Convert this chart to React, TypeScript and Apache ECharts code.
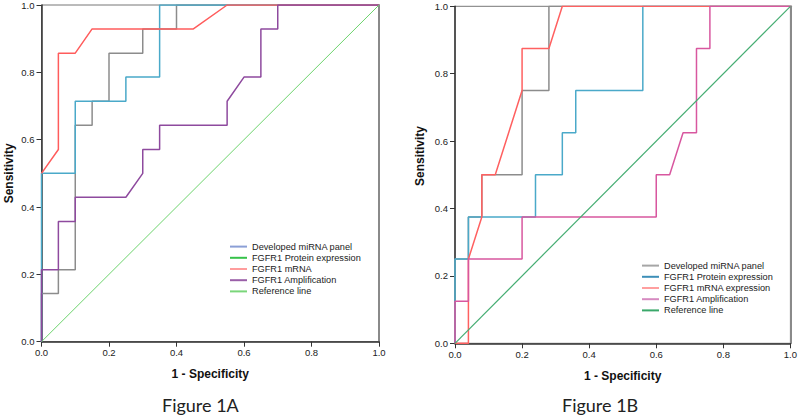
import React, { useEffect, useRef } from "react";
import * as echarts from "echarts";

// ---------- Data (Figure 1A) ----------
const leftDeveloped: number[][] = [
  [0, 0], [0, 0.143], [0.05, 0.143], [0.05, 0.214], [0.1, 0.214], [0.1, 0.643], [0.15, 0.643],
  [0.15, 0.714], [0.2, 0.714], [0.2, 0.857], [0.3, 0.857], [0.3, 0.929], [0.4, 0.929], [0.4, 1], [1, 1],
];
const leftProtein: number[][] = [
  [0, 0], [0, 0.5], [0.1, 0.5], [0.1, 0.714], [0.25, 0.714], [0.25, 0.786], [0.35, 0.786], [0.35, 1], [1, 1],
];
const leftMRNA: number[][] = [
  [0, 0.5], [0.05, 0.571], [0.05, 0.857], [0.1, 0.857], [0.15, 0.929], [0.45, 0.929], [0.55, 1], [1, 1],
];
const leftAmplification: number[][] = [
  [0, 0], [0, 0.214], [0.05, 0.214], [0.05, 0.357], [0.1, 0.357], [0.1, 0.429], [0.25, 0.429], [0.3, 0.5],
  [0.3, 0.571], [0.35, 0.571], [0.35, 0.643], [0.55, 0.643], [0.55, 0.714], [0.6, 0.786], [0.65, 0.786],
  [0.65, 0.929], [0.7, 0.929], [0.7, 1], [1, 1],
];
const referenceLine: number[][] = [[0, 0], [1, 1]];

// ---------- Data (Figure 1B) ----------
const rightDeveloped: number[][] = [
  [0, 0], [0, 0.25], [0.04, 0.25], [0.04, 0.375], [0.08, 0.375], [0.08, 0.5], [0.2, 0.5], [0.2, 0.75],
  [0.28, 0.75], [0.28, 1], [1, 1],
];
const rightProtein: number[][] = [
  [0, 0], [0, 0.25], [0.04, 0.25], [0.04, 0.375], [0.24, 0.375], [0.24, 0.5], [0.32, 0.5], [0.32, 0.625],
  [0.36, 0.625], [0.36, 0.75], [0.56, 0.75], [0.56, 1], [1, 1],
];
const rightMRNA: number[][] = [
  [0, 0], [0.04, 0], [0.04, 0.25], [0.08, 0.375], [0.08, 0.5], [0.12, 0.5], [0.2, 0.75], [0.2, 0.875],
  [0.28, 0.875], [0.32, 1], [1, 1],
];
const rightAmplification: number[][] = [
  [0, 0], [0, 0.125], [0.04, 0.125], [0.04, 0.25], [0.2, 0.25], [0.2, 0.375], [0.6, 0.375], [0.6, 0.5],
  [0.64, 0.5], [0.68, 0.625], [0.72, 0.625], [0.72, 0.875], [0.76, 0.875], [0.76, 1], [1, 1],
];

const leftNames = ["Developed miRNA panel", "FGFR1 Protein expression", "FGFR1 mRNA", "FGFR1 Amplification", "Reference line"];
const rightNames = ["Developed miRNA panel", "FGFR1 Protein expression", "FGFR1 mRNA expression", "FGFR1 Amplification", "Reference line"];
const figureLabels = ["Figure 1A", "Figure 1B"];
const xTitle = "1 - Specificity";
const yTitle = "Sensitivity";

const leftCurveColors = ["#8c8c8c", "#4aa9c9", "#ff5c5c", "#8e4a9e", "#6cd36c"];
const leftLegendColors = ["#8b9fd6", "#36c24a", "#ff9d9d", "#9a5fa8", "#7ad67a"];
const rightCurveColors = ["#8c8c8c", "#4aa9c9", "#ff6060", "#d8579f", "#45ad72"];
const rightLegendColors = ["#a6a6a6", "#3d8fb8", "#ff9f9f", "#d68ac0", "#3aa86a"];

const FONT = "Liberation Sans, Arial, sans-serif";

export default function App() {
  const ref = useRef<HTMLDivElement>(null);
  useEffect(() => {
    document.body.style.margin = "0";
    if (!ref.current) return;
    const chart = echarts.init(ref.current, null, { renderer: "svg" });

    const mkX = (gridIndex: number, gap: number) => ({
      type: "value",
      gridIndex,
      min: 0,
      max: 1,
      interval: 0.2,
      name: xTitle,
      nameLocation: "middle",
      nameGap: gap,
      nameTextStyle: { fontFamily: FONT, fontWeight: "bold", fontSize: 12, color: "#111" },
      axisLine: { show: true, lineStyle: { color: "#333", width: 1.5 } },
      axisTick: { show: true, length: 5, inside: false, lineStyle: { color: "#333" } },
      axisLabel: { fontFamily: FONT, fontSize: 9.5, color: "#222", margin: 6, formatter: (v: number) => v.toFixed(1) },
      splitLine: { show: false },
    });
    const mkY = (gridIndex: number, withName: boolean) => ({
      type: "value",
      gridIndex,
      min: 0,
      max: 1,
      interval: 0.2,
      name: withName ? yTitle : "",
      nameLocation: "middle",
      nameGap: 27,
      nameTextStyle: { fontFamily: FONT, fontWeight: "bold", fontSize: 12, color: "#111" },
      axisLine: { show: true, lineStyle: { color: "#333", width: 1.5 } },
      axisTick: { show: true, length: 5, inside: false, lineStyle: { color: "#333" } },
      axisLabel: { fontFamily: FONT, fontSize: 9.5, color: "#222", margin: 7, formatter: (v: number) => v.toFixed(1) },
      splitLine: { show: false },
    });
    const mkRightEdge = (gridIndex: number) => ({
      type: "value",
      gridIndex,
      position: "right",
      min: 0,
      max: 1,
      interval: 0.2,
      axisLine: { show: true, lineStyle: { color: "#8a8a8a", width: 2 } },
      axisTick: { show: false },
      axisLabel: { show: false },
      splitLine: { show: false },
    });

    const leftData = [leftDeveloped, leftProtein, leftMRNA, leftAmplification, referenceLine];
    const rightData = [rightDeveloped, rightProtein, rightMRNA, rightAmplification, referenceLine];

    const series: any[] = [];
    leftData.forEach((d, i) =>
      series.push({
        type: "line",
        name: leftNames[i],
        xAxisIndex: 0,
        yAxisIndex: 0,
        data: d,
        symbol: "none",
        lineStyle: { color: leftCurveColors[i], width: i === 4 ? 1 : 1.5 },
        itemStyle: { color: leftCurveColors[i] },
      })
    );
    rightData.forEach((d, i) =>
      series.push({
        type: "line",
        name: rightNames[i],
        xAxisIndex: 1,
        yAxisIndex: 2,
        data: d,
        symbol: "none",
        lineStyle: { color: rightCurveColors[i], width: i === 4 ? 1.2 : 1.5 },
        itemStyle: { color: rightCurveColors[i] },
      })
    );

    const mkLegend = (names: string[], colors: string[], left: number, top: number) => ({
      orient: "vertical",
      left,
      top,
      icon: "rect",
      itemWidth: 17,
      itemHeight: 2,
      itemGap: 0,
      selectedMode: false,
      textStyle: { fontFamily: FONT, fontSize: 9.2, lineHeight: 11.2, color: "#222" },
      data: names.map((n, i) => ({ name: n, itemStyle: { color: colors[i] } })),
    });

    chart.setOption({
      animation: false,
      backgroundColor: "#fff",
      grid: [
        { left: 41.5, top: 4.7, width: 337.5, height: 337, show: true, borderColor: "#777", borderWidth: 1 },
        { left: 455, top: 6.3, width: 338, height: 337, show: true, borderColor: "#777", borderWidth: 1 },
      ],
      xAxis: [mkX(0, 26), mkX(1, 27)],
      yAxis: [mkY(0, true), mkRightEdge(0), mkY(1, false), mkRightEdge(1)],
      legend: [
        mkLegend(leftNames, leftLegendColors, 225, 236),
        mkLegend(rightNames, rightLegendColors, 637, 255),
      ],
      graphic: [
        {
          type: "text", x: 420, y: 156, rotation: Math.PI / 2,
          style: { text: yTitle, fontFamily: FONT, fontWeight: "bold", fontSize: 12, fill: "#111", align: "center", verticalAlign: "middle" },
        },
        { type: "text", left: 162, top: 396, style: { text: figureLabels[0], fontFamily: "Lato, Open Sans, sans-serif", fontSize: 18, fill: "#222" } },
        { type: "text", left: 562, top: 396, style: { text: figureLabels[1], fontFamily: "Lato, Open Sans, sans-serif", fontSize: 18, fill: "#222" } },
      ],
      series,
    });
    return () => chart.dispose();
  }, []);
  return <div ref={ref} style={{ width: 800, height: 419 }} />;
}
